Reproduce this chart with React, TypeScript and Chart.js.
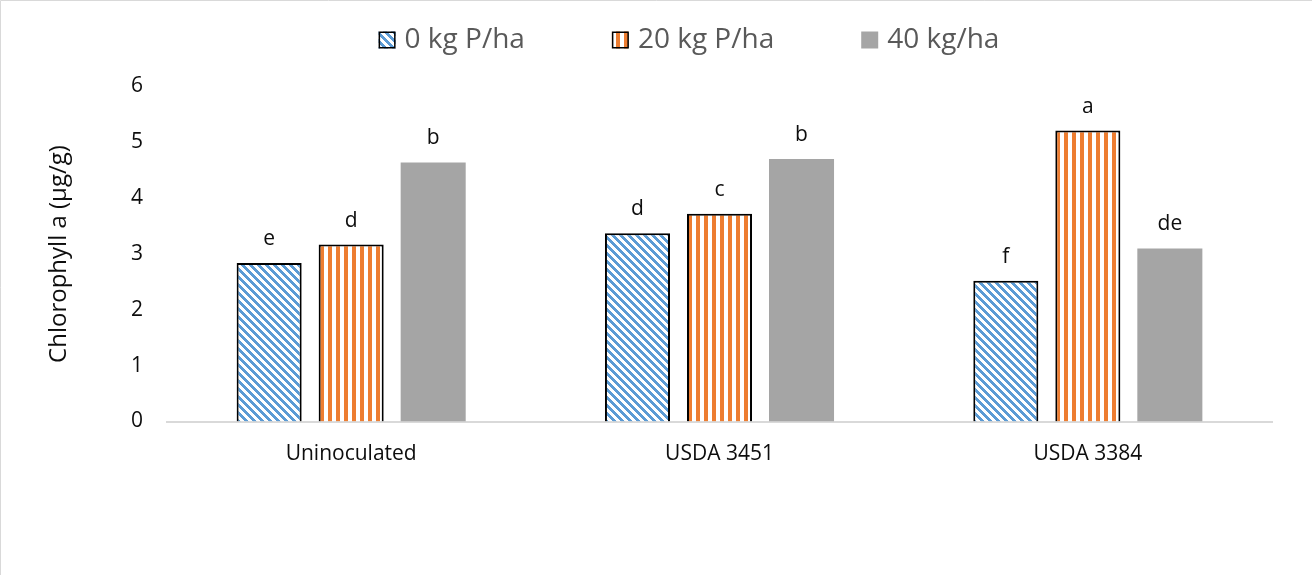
import React, { useEffect, useRef } from "react";
import { Chart, registerables } from "chart.js";

Chart.register(...registerables);

// ---- data ----
const categories = ["Uninoculated", "USDA 3451", "USDA 3384"];
const seriesNames = ["0 kg P/ha", "20 kg P/ha", "40 kg/ha"];
const values0kg = [2.84, 3.37, 2.52];
const values20kg = [3.17, 3.72, 5.21];
const values40kg = [4.64, 4.7, 3.1];
const letters0kg = ["e", "d", "f"];
const letters20kg = ["d", "c", "a"];
const letters40kg = ["b", "b", "de"];
const yMin = 0;
const yMax = 6;
const yStep = 1;
const yTitle = "Chlorophyll a (µg/g)";

// ---- style ----
const FONT = "'Open Sans', sans-serif";
const BLUE = "#5B9BD5";
const ORANGE = "#ED7D31";
const GREY = "#A5A5A5";
const TEXT = "#0d0d0d";
const LEGEND_TEXT = "#595959";

function makePattern(kind: "diag" | "vert", color: string): CanvasPattern | string {
  const c = document.createElement("canvas");
  c.width = 8;
  c.height = 8;
  const g = c.getContext("2d");
  if (!g) return color;
  g.fillStyle = "#ffffff";
  g.fillRect(0, 0, 8, 8);
  g.fillStyle = color;
  for (let y = 0; y < 8; y++) {
    for (let x = 0; x < 8; x++) {
      const on = kind === "diag" ? (x - y + 16) % 8 < 4 : x % 8 < 4;
      if (on) g.fillRect(x, y, 1, 1);
    }
  }
  return g.createPattern(c, "repeat") || color;
}

export default function App() {
  const ref = useRef<HTMLCanvasElement | null>(null);

  useEffect(() => {
    document.body.style.margin = "0";
    const canvas = ref.current;
    if (!canvas) return;
    Chart.defaults.font.family = FONT;

    const blue = makePattern("diag", BLUE);
    const orange = makePattern("vert", ORANGE);
    const lettersAll = [letters0kg, letters20kg, letters40kg];

    const frame = {
      id: "frame",
      beforeDraw(chart: any) {
        const ctx = chart.ctx;
        ctx.save();
        ctx.fillStyle = "#ffffff";
        ctx.fillRect(0, 0, chart.width, chart.height);
        ctx.strokeStyle = "#d9d9d9";
        ctx.lineWidth = 1;
        ctx.beginPath();
        ctx.moveTo(0.5, chart.height);
        ctx.lineTo(0.5, 0.5);
        ctx.lineTo(chart.width, 0.5);
        ctx.stroke();
        ctx.restore();
      },
    };

    const dataLabels = {
      id: "letters",
      afterDatasetsDraw(chart: any) {
        const ctx = chart.ctx;
        ctx.save();
        ctx.font = `21px ${FONT}`;
        ctx.fillStyle = TEXT;
        ctx.textAlign = "center";
        ctx.textBaseline = "alphabetic";
        chart.data.datasets.forEach((_ds: any, i: number) => {
          const meta = chart.getDatasetMeta(i);
          meta.data.forEach((el: any, j: number) => {
            ctx.fillText(lettersAll[i][j], el.x, el.y - 18);
          });
        });
        ctx.restore();
      },
    };

    const legend = {
      id: "customLegend",
      afterDraw(chart: any) {
        const ctx = chart.ctx;
        const BOX = 17;
        const BOXGAP = 9;
        const GAP = 87;
        const CX = 689;
        const boxTop = 31.5;
        const baseline = 47.5;
        ctx.save();
        ctx.font = `28px ${FONT}`;
        const items = chart.data.datasets.map((ds: any) => ({
          label: ds.label,
          w: ctx.measureText(ds.label).width,
          bg: ds.backgroundColor,
          bw: ds.borderWidth,
          bc: ds.borderColor,
        }));
        const total =
          items.reduce((s: number, it: any) => s + BOX + BOXGAP + it.w, 0) + GAP * (items.length - 1);
        let x = CX - total / 2;
        for (const it of items) {
          ctx.fillStyle = it.bg;
          ctx.fillRect(x, boxTop, BOX, BOX);
          if (it.bw) {
            ctx.lineWidth = 1.5;
            ctx.strokeStyle = it.bc;
            ctx.strokeRect(x + 0.75, boxTop + 0.75, BOX - 1.5, BOX - 1.5);
          }
          ctx.fillStyle = LEGEND_TEXT;
          ctx.textAlign = "left";
          ctx.textBaseline = "alphabetic";
          ctx.fillText(it.label, x + BOX + BOXGAP, baseline);
          x += BOX + BOXGAP + it.w + GAP;
        }
        ctx.restore();
      },
    };

    const chart = new Chart(canvas, {
      type: "bar",
      data: {
        labels: categories,
        datasets: [
          {
            label: seriesNames[0],
            data: values0kg,
            backgroundColor: blue as any,
            borderColor: "#000000",
            borderWidth: 2,
          },
          {
            label: seriesNames[1],
            data: values20kg,
            backgroundColor: orange as any,
            borderColor: "#000000",
            borderWidth: 2,
          },
          {
            label: seriesNames[2],
            data: values40kg,
            backgroundColor: GREY,
            borderColor: GREY,
            borderWidth: 0,
          },
        ],
      },
      options: {
        responsive: false,
        animation: false,
        devicePixelRatio: 1,
        layout: { padding: { top: 86.5, right: 40, bottom: 0, left: 0 } },
        datasets: {
          bar: { categoryPercentage: 0.668, barPercentage: 0.793 },
        },
        plugins: {
          legend: { display: false },
          tooltip: { enabled: false },
        },
        scales: {
          x: {
            grid: { display: false, drawTicks: false },
            border: { display: true, color: "#d9d9d9", width: 2 },
            ticks: { color: TEXT, font: { size: 21, family: FONT }, padding: 20 },
            afterFit: (s: any) => {
              s.height = 153.5;
            },
          },
          y: {
            min: yMin,
            max: yMax,
            grid: { display: false, drawTicks: false },
            border: { display: false },
            ticks: { stepSize: yStep, color: TEXT, font: { size: 21, family: FONT }, padding: 24 },
            title: {
              display: true,
              text: yTitle,
              color: TEXT,
              font: { size: 24, family: FONT },
              padding: { top: 45, bottom: 0 },
            },
            afterFit: (s: any) => {
              s.width = 167;
            },
          },
        },
      },
      plugins: [frame, dataLabels, legend],
    });

    return () => chart.destroy();
  }, []);

  return (
    <div style={{ width: 1312, height: 575 }}>
      <canvas ref={ref} width={1312} height={575} style={{ display: "block" }} />
    </div>
  );
}
